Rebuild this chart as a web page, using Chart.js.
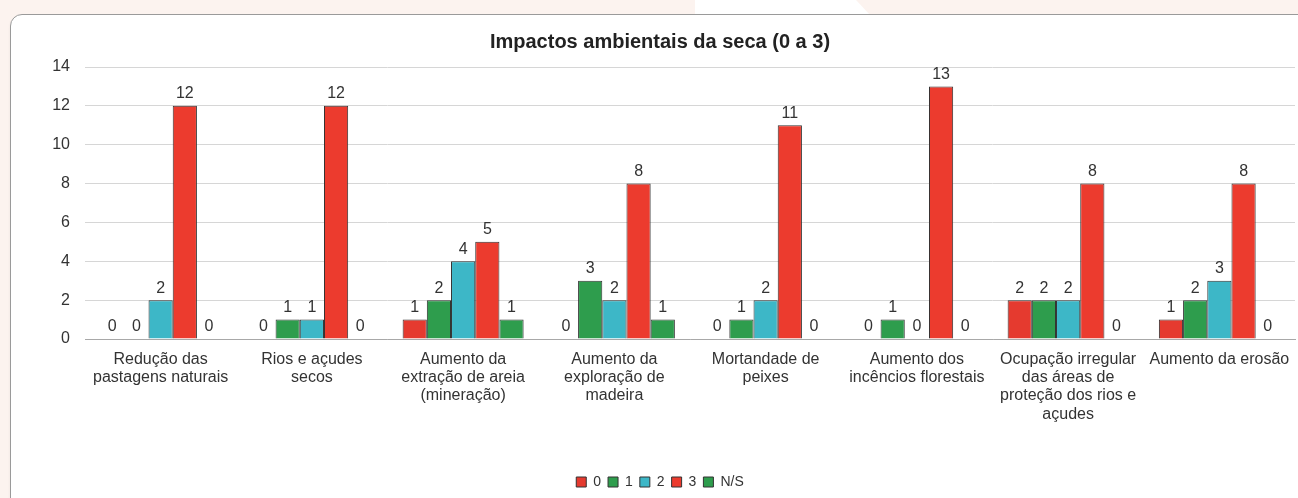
<!DOCTYPE html>
<html>
<head>
<meta charset="utf-8">
<script src="https://cdn.jsdelivr.net/npm/chart.js@4/dist/chart.umd.min.js"></script>
<style>
  html, body { margin: 0; padding: 0; }
  body { width: 1298px; height: 498px; overflow: hidden; background: #fcf3ef; position: relative; }
  .stripe { position: absolute; top: 0; left: 695px; width: 175px; height: 15px; background: #fff;
            clip-path: polygon(0 0, 92% 0, 100% 100%, 0 100%); }
  .card { position: absolute; left: 10px; top: 14px; width: 1320px; height: 520px; background: #fff;
          border: 1px solid #9a9a9a; border-radius: 12px; box-shadow: 0 2px 3px rgba(0,0,0,0.06); }
  .wrap { position: absolute; left: 10px; top: 14px; width: 1300px; height: 500px; }
</style>
</head>
<body>
<div class="stripe"></div>
<div class="card"></div>
<div class="wrap"><canvas id="chart"></canvas></div>
<script>
  const categories = [
    ["Redução das", "pastagens naturais"],
    ["Rios e açudes", "secos"],
    ["Aumento da", "extração de areia", "(mineração)"],
    ["Aumento da", "exploração de", "madeira"],
    ["Mortandade de", "peixes"],
    ["Aumento dos", "incêncios florestais"],
    ["Ocupação irregular", "das áreas de", "proteção dos rios e", "açudes"],
    ["Aumento da erosão"],
  ];
  const seriesNames = ["0", "1", "2", "3", "N/S"];
  const score0 = [0, 0, 1, 0, 0, 0, 2, 1];
  const score1 = [0, 1, 2, 3, 1, 1, 2, 2];
  const score2 = [2, 1, 4, 2, 2, 0, 2, 3];
  const score3 = [12, 12, 5, 8, 11, 13, 8, 8];
  const scoreNS = [0, 0, 1, 1, 0, 0, 0, 0];
  const yTicks = [0, 2, 4, 6, 8, 10, 12, 14];

  const colors = ["#e53a2f", "#2e9d4d", "#3db7c7", "#ec3b2e", "#2e9d4d"];
  const FONT = "'Liberation Sans', Arial, sans-serif";

  // draws the value above every bar
  const valueLabels = {
    id: "valueLabels",
    afterDatasetsDraw(chart) {
      const ctx = chart.ctx;
      ctx.save();
      ctx.font = "16px " + FONT;
      ctx.fillStyle = "#333";
      ctx.textAlign = "center";
      ctx.textBaseline = "bottom";
      chart.data.datasets.forEach((ds, i) => {
        chart.getDatasetMeta(i).data.forEach((bar, j) => {
          ctx.fillText(ds.data[j], bar.x, bar.y - 4);
        });
      });
      ctx.restore();
    },
  };

  const allSeries = [score0, score1, score2, score3, scoreNS];

  new Chart(document.getElementById("chart"), {
    type: "bar",
    data: {
      labels: categories,
      datasets: allSeries.map((vals, i) => ({
        label: seriesNames[i],
        data: vals,
        backgroundColor: colors[i],
        borderColor: "#333",
        borderWidth: 1,
        categoryPercentage: 0.8,
        barPercentage: 1.0,
      })),
    },
    options: {
      responsive: true,
      maintainAspectRatio: false,
      animation: false,
      layout: { padding: { left: 15, right: 15, top: 10, bottom: 15 } },
      plugins: {
        title: {
          display: true,
          text: "Impactos ambientais da seca (0 a 3)",
          color: "#222",
          font: { family: FONT, size: 20, weight: "bold" },
          padding: { top: 6, bottom: 13 },
        },
        legend: {
          position: "bottom",
          labels: {
            boxWidth: 10,
            boxHeight: 10,
            padding: 7,
            color: "#333",
            font: { family: FONT, size: 14 },
          },
        },
        tooltip: { enabled: false },
      },
      scales: {
        x: {
          grid: { display: false },
          border: { color: "#a8a8a8" },
          ticks: {
            color: "#333",
            font: { family: FONT, size: 16, lineHeight: 1.15 },
            maxRotation: 0,
            autoSkip: false,
          },
          afterFit: (scale) => { scale.height = 129; },
        },
        y: {
          min: 0,
          max: 14,
          afterBuildTicks: (scale) => { scale.ticks = yTicks.map((v) => ({ value: v })); },
          afterFit: (scale) => { scale.width = 60; },
          grid: { color: "#d6d6d6", drawTicks: false },
          border: { display: false },
          ticks: {
            color: "#333",
            padding: 15,
            font: { family: FONT, size: 16 },
          },
        },
      },
    },
    plugins: [valueLabels],
  });
</script>
</body>
</html>
